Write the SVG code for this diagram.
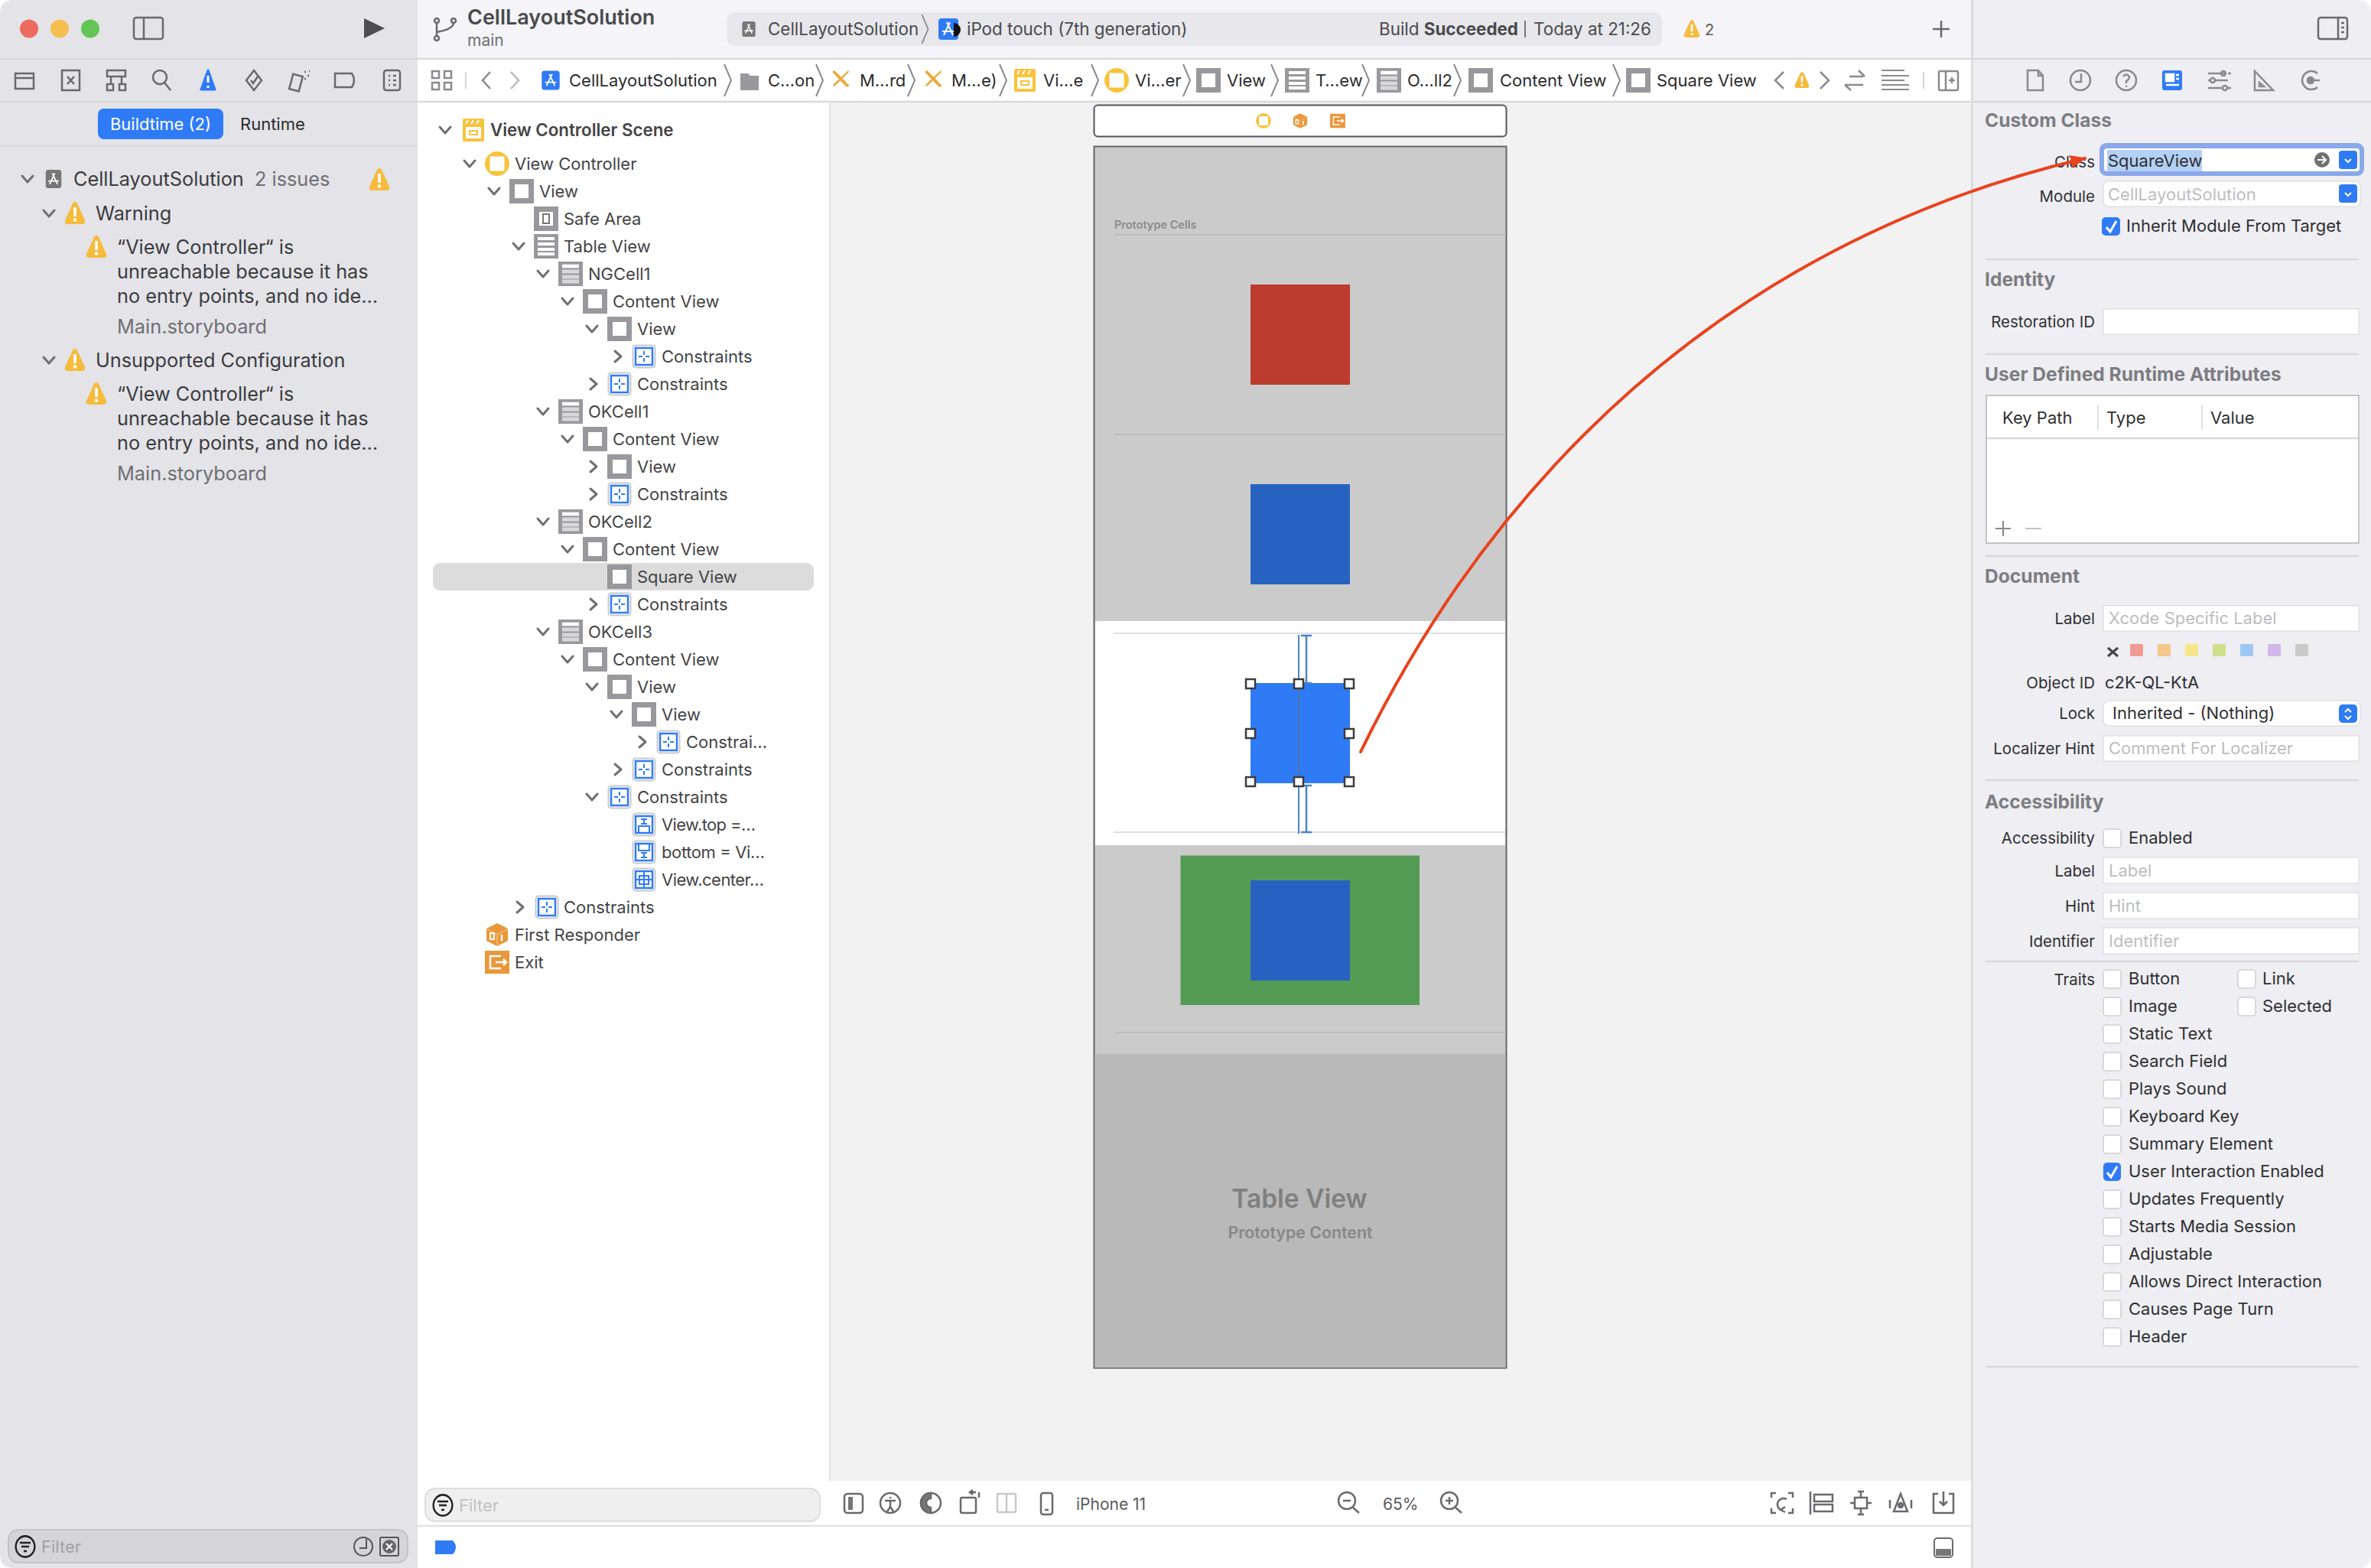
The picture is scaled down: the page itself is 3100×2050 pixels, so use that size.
<svg xmlns="http://www.w3.org/2000/svg" width="3100" height="2050" viewBox="0 0 3100 2050">
<style>
text{font-family:"Inter","Liberation Sans",sans-serif;fill:#3a3a3c}
.t{font-size:22px;fill:#444446}
.n{font-size:25.3px;fill:#3c3c3e}
.g{font-size:25.3px;fill:#6f6f72}
.j{font-size:22px;fill:#2c2c2e}
.k{font-size:22.4px;fill:#4a4a4c}
.h{font-size:24.6px;font-weight:700;fill:#7d7d82}
.l{font-size:20.5px;fill:#303032;text-anchor:end}
.v{font-size:22px;fill:#303032}
.p{font-size:22px;fill:#bdbdc0}
.f{fill:#fff;stroke:#d6d6da;stroke-width:1}
.cb{fill:#fff;stroke:#cfcfd3;stroke-width:1.5}
.sep{stroke:#d9d9dd;stroke-width:2.5;fill:none}
.ic{fill:none;stroke:#6a6a6e;stroke-width:2.5}
.ib{fill:none;stroke:#8a8a8e;stroke-width:2.5}
.ch{fill:none;stroke:#707074;stroke-width:3;stroke-linecap:round;stroke-linejoin:round}
.jc{fill:none;stroke:#8a8a8e;stroke-width:2}
.hd{fill:#fff;stroke:#3c3c3e;stroke-width:2.5}
</style>
<defs>
<marker id="ah" markerUnits="userSpaceOnUse" markerWidth="24" markerHeight="18" refX="20" refY="9" orient="auto"><path d="M0 0L22 9L0 18L3 9Z" fill="#e8431f"/></marker>
<path id="cd" class="ch" d="M-7-4L0 4L7-4"/>
<path id="cr" class="ch" d="M-2-7L6 0L-2 7"/>
<g id="i-view"><rect x="-16" y="-16" width="32" height="32" fill="#98989d"/><rect x="-9" y="-9" width="18" height="18" fill="#fff"/></g>
<g id="i-cell"><rect x="-16" y="-16" width="32" height="32" fill="#98989d"/><path d="M-11-10H11M-11-3H11M-11 4H11M-11 10H11" stroke="#d8d8da" stroke-width="5"/><path d="M-11-10H11" stroke="#fff" stroke-width="4"/></g>
<g id="i-table"><rect x="-16" y="-16" width="32" height="32" fill="#98989d"/><path d="M-11-10H11M-11-3H11M-11 4H11M-11 10H11" stroke="#fff" stroke-width="4"/></g>
<g id="i-safe"><rect x="-16" y="-16" width="32" height="32" fill="#98989d"/><rect x="-9" y="-9" width="18" height="18" fill="#fff"/><rect x="-4" y="-6" width="8" height="12" fill="none" stroke="#777" stroke-width="2"/></g>
<g id="i-con"><rect x="-14.5" y="-14.5" width="29" height="29" rx="4" fill="#fff" stroke="#c9c9cd" stroke-width="2"/><rect x="-11" y="-11" width="22" height="22" fill="none" stroke="#2f7bf6" stroke-width="2.5"/><path d="M-7 0H-2M2 0H7M0-7V-2M0 2V7" stroke="#2f7bf6" stroke-width="2"/></g>
<g id="i-top"><rect x="-14.5" y="-14.5" width="29" height="29" rx="4" fill="#fff" stroke="#c9c9cd" stroke-width="2"/><rect x="-11" y="-11" width="22" height="22" fill="none" stroke="#2f7bf6" stroke-width="2.5"/><path d="M-4-7H4M0-7V-1M-4-1H4M-7 11V2H7V11" fill="none" stroke="#2f7bf6" stroke-width="2"/></g>
<g id="i-bot"><rect x="-14.5" y="-14.5" width="29" height="29" rx="4" fill="#fff" stroke="#c9c9cd" stroke-width="2"/><rect x="-11" y="-11" width="22" height="22" fill="none" stroke="#2f7bf6" stroke-width="2.5"/><path d="M-4 7H4M0 7V1M-4 1H4M-7-11V-2H7V-11" fill="none" stroke="#2f7bf6" stroke-width="2"/></g>
<g id="i-cen"><rect x="-14.5" y="-14.5" width="29" height="29" rx="4" fill="#fff" stroke="#c9c9cd" stroke-width="2"/><rect x="-11" y="-11" width="22" height="22" fill="none" stroke="#2f7bf6" stroke-width="2.5"/><path d="M-6-5H6V6H-6ZM0-11V11M-11 0H11" fill="none" stroke="#2f7bf6" stroke-width="2"/></g>
<g id="i-vc"><circle r="16" fill="#f8c33c"/><rect x="-9.5" y="-9.5" width="19" height="19" fill="#fff"/></g>
<g id="i-scene"><rect x="-14" y="-15" width="28" height="30" rx="2" fill="#f8c33c"/><rect x="-10" y="-4" width="20" height="15" fill="#fff"/><rect x="-5" y="1" width="10" height="5" fill="none" stroke="#f8c33c" stroke-width="2"/><path d="M-10-8L-7-13M-3-8L0-13M4-8L7-13" stroke="#fff" stroke-width="2"/></g>
<g id="i-resp"><path d="M0-15L14-8V8L0 15L-14 8V-8Z" fill="#e9973a"/><path d="M0 0V15M0 0L14-8M0 0L-14-8" stroke="#f2b873" stroke-width="1.5"/><rect x="-9" y="-2" width="5" height="8" fill="none" stroke="#fff" stroke-width="2"/><path d="M6 0V8" stroke="#fff" stroke-width="2.5"/></g>
<g id="i-exit"><rect x="-16" y="-15" width="32" height="30" fill="#e9973a"/><path d="M5-8H-9V8H5M-2 0H12M8-4L12 0L8 4" fill="none" stroke="#fff" stroke-width="2.5"/></g>
<g id="i-warn"><path d="M0-15C1.5-15 3-14 3.5-12L13 9C14 12 12 14 9 14H-9C-12 14-14 12-13 9L-3.5-12C-3-14-1.5-15 0-15Z" fill="#f6bb3c"/><rect x="-1.8" y="-8" width="3.6" height="12" fill="#fff"/><circle cy="8.5" r="2.2" fill="#fff"/></g>
<g id="i-app"><rect x="-12" y="-14" width="24" height="28" rx="4" fill="#777"/><path d="M-6 8L2-9M6 8L-2-9M-8 3H8" stroke="#fff" stroke-width="2" fill="none"/></g>
<g id="i-appb"><rect x="-13" y="-14" width="26" height="28" rx="4" fill="#2f7bf6"/><path d="M-6 8L2-9M6 8L-2-9M-8 3H8" stroke="#fff" stroke-width="2" fill="none"/></g>
<g id="i-x"><path d="M-11-9L-8-11L8 5L5 8ZM10-11L11-9L-7 9L-10 10L-9 7Z" fill="#e8aa3c"/><path d="M5 8C7 5 9 6 11 8C11 11 9 11 7 10Z" fill="#e8aa3c"/></g>
<path id="jv" class="jc" d="M-4-21L5 0L-4 21"/>
<g id="i-filt"><circle r="13" fill="none" stroke="#222" stroke-width="2.5" transform="scale(.95 1.05)"/><path d="M-7-5H7M-5 0H5M-2 6H2" stroke="#222" stroke-width="2.5"/></g>
<g id="i-blue"><rect x="-12" y="-12" width="24" height="24" rx="4" fill="#2f7bf6"/><path d="M-4-1L0 3L4-1" fill="none" stroke="#fff" stroke-width="2"/></g>
</defs>
<rect width="3100" height="2050" fill="#fff"/>

<g id="canvas">
<rect x="1085" y="133" width="1494" height="1803" fill="#f2f2f2"/>
<rect x="1430.5" y="137.5" width="539" height="41" rx="5" fill="#fff" stroke="#55555a" stroke-width="2"/>
<use href="#i-vc" transform="translate(1652 158) scale(.62)"/>
<use href="#i-resp" transform="translate(1700 158) scale(.65)"/>
<use href="#i-exit" transform="translate(1749 158) scale(.62)"/>
<rect x="1430.5" y="191.5" width="539" height="1597" fill="#cbcbcb" stroke="#66666a" stroke-width="2"/>
<text x="1457" y="299" style="font-size:14.5px;font-weight:600;fill:#8a8a8a">Prototype Cells</text>
<path d="M1457 307H1969M1457 568H1969" stroke="#bdbdbd" stroke-width="2"/>
<rect x="1635" y="372" width="130" height="131" fill="#bb3c2f"/>
<rect x="1635" y="633" width="130" height="131" fill="#2862c0"/>
<rect x="1432" y="812" width="536" height="293" fill="#fff"/>
<path d="M1456 828H1968M1456 1088H1968" stroke="#e0e0e0" stroke-width="2"/>
<rect x="1635" y="893" width="130" height="131" fill="#2f7bf6"/>
<path d="M1698 830V1090" stroke="#4a86c8" stroke-width="2"/>
<path d="M1698 893V1024" stroke="#4d6f9c" stroke-width="1.5"/>
<path d="M1701 831H1715M1708 831V893M1701 893H1715M1701 1027H1715M1708 1027V1088M1701 1088H1715" stroke="#4a86c8" stroke-width="2.5" fill="none"/>
<g class="hd">
<rect x="1629" y="888" width="12" height="12"/><rect x="1692" y="888" width="12" height="12"/><rect x="1758" y="888" width="12" height="12"/>
<rect x="1629" y="953" width="12" height="12"/><rect x="1758" y="953" width="12" height="12"/>
<rect x="1629" y="1016" width="12" height="12"/><rect x="1692" y="1016" width="12" height="12"/><rect x="1758" y="1016" width="12" height="12"/>
</g>
<rect x="1543.5" y="1118.5" width="312.5" height="195.5" fill="#549c54"/>
<rect x="1635" y="1151" width="130" height="131" fill="#2862c0"/>
<path d="M1457 1350H1969" stroke="#bdbdbd" stroke-width="2"/>
<rect x="1431.5" y="1378" width="537" height="410" fill="#b9b9b9"/>
<text x="1699" y="1579" text-anchor="middle" style="font-size:33.5px;font-weight:600;fill:#7f7f7f">Table View</text>
<text x="1700" y="1619" text-anchor="middle" style="font-size:21.3px;font-weight:600;fill:#888">Prototype Content</text>
</g>

<g id="left-panel">
<rect width="546" height="2050" fill="#e3e3e8"/>
<path d="M0 77H546M0 133H546M0 191H546" class="sep" stroke="#cfcfd4"/>
<circle cx="38" cy="37.5" r="12" fill="#ed6a5e"/><circle cx="78" cy="37.5" r="12" fill="#f5bf4f"/><circle cx="118" cy="37.5" r="12" fill="#62c554"/>
<g class="ic"><rect x="175" y="23" width="38" height="28" rx="3"/><path d="M188 23V51"/></g>
<path d="M476 24L503 37L476 50Z" fill="#4d4d50"/>
<g class="ic">
<path d="M20 96H44V116H20ZM20 102H44"/>
<rect x="81" y="92" width="23" height="26"/><path d="M88 100L97 110M97 100L88 110"/>
<path d="M140 92H164V100H140ZM145 100V110M159 100V110M140 110H148V118H140ZM156 110H164V118H156Z"/>
<circle cx="209" cy="101" r="9"/><path d="M215 108L223 118"/>
<path d="M332 92L342 105L332 118L322 105Z"/><path d="M328 105L331 109L337 100"/>
<rect x="381" y="98" width="13" height="20" transform="rotate(15 387 106)"/><path d="M398 94h2M402 99h2M398 103h2M404 93h1"/>
<path d="M438 96H460Q466 105 460 114H438Z"/>
<rect x="502" y="92" width="21" height="26" rx="3"/><path d="M508 99H510M514 99H518M508 105H510M514 105H518M508 111H510M514 111H518"/>
</g>
<path d="M272 92L281 117H263Z" fill="#2f7bf6" stroke="#2f7bf6" stroke-linejoin="round" stroke-width="3"/><path d="M272 99V108M272 112V115" stroke="#fff" stroke-width="3"/>
<rect x="128" y="142" width="164" height="40" rx="8" fill="#2f7bf6"/>
<text x="210" y="170" text-anchor="middle" style="font-size:22px;fill:#fff">Buildtime (2)</text>
<text x="314" y="170" style="font-size:22px;fill:#2c2c2e">Runtime</text>
<use href="#cd" x="36" y="234"/><use href="#i-app" transform="translate(70 234) scale(.85)"/>
<text class="n" x="96" y="243">CellLayoutSolution</text><text class="g" x="333" y="243">2 issues</text>
<use href="#i-warn" x="496" y="235"/>
<use href="#cd" x="64" y="279"/><use href="#i-warn" x="98" y="279"/><text class="n" x="125" y="288">Warning</text>
<use href="#i-warn" x="126" y="323"/>
<text class="n" x="153" y="332">“View Controller“ is</text>
<text class="n" x="153" y="364">unreachable because it has</text>
<text class="n" x="153" y="396">no entry points, and no ide…</text>
<text class="g" x="153" y="436">Main.storyboard</text>
<use href="#cd" x="64" y="471"/><use href="#i-warn" x="98" y="471"/><text class="n" x="125" y="480">Unsupported Configuration</text>
<use href="#i-warn" x="126" y="515"/>
<text class="n" x="153" y="524">“View Controller“ is</text>
<text class="n" x="153" y="556">unreachable because it has</text>
<text class="n" x="153" y="588">no entry points, and no ide…</text>
<text class="g" x="153" y="628">Main.storyboard</text>
<rect x="11" y="2000" width="522" height="43" rx="13" fill="#d4d4d9" stroke="#bcbcc0" stroke-width="1.5"/>
<use href="#i-filt" x="33" y="2022"/>
<text x="54" y="2030" style="font-size:22px;fill:#a2a2a6">Filter</text>
<circle cx="475" cy="2022" r="12" fill="none" stroke="#555" stroke-width="2"/><path d="M479 2012V2024H470" fill="none" stroke="#555" stroke-width="2"/>
<rect x="497" y="2010" width="24" height="24" rx="2" fill="none" stroke="#555" stroke-width="2"/><circle cx="509" cy="2022" r="9" fill="#666"/><path d="M505 2018L513 2026M513 2018L505 2026" stroke="#fff" stroke-width="2"/>
</g>

<g id="top-bar">
<rect x="546" width="2033" height="77" fill="#f4f4f9"/>
<g class="ic"><circle cx="571" cy="27" r="3"/><circle cx="571" cy="50" r="3"/><path d="M571 30V47M593 30Q593 38 571 42"/></g><circle cx="593" cy="27" r="3" fill="none" stroke="#6a6a6e" stroke-width="2.5"/>
<text x="611" y="32" style="font-size:27px;font-weight:600;fill:#4a4a4c">CellLayoutSolution</text>
<text x="611" y="60" style="font-size:21px;fill:#6f6f72">main</text>
<rect x="950" y="16" width="1223" height="44" rx="10" fill="#e7e7ec"/>
<use href="#i-app" transform="translate(979 38) scale(.72)"/>
<text class="k" x="1004" y="46">CellLayoutSolution</text>
<use href="#jv" transform="translate(1209 38) scale(.9)"/>
<use href="#i-appb" x="1240" y="38"/><path d="M1247 30a7 7 0 0 1 0 18z" fill="#111"/>
<text class="k" x="1264" y="46">iPod touch (7th generation)</text>
<text class="k" x="1803" y="46">Build <tspan font-weight="700">Succeeded</tspan></text>
<path d="M1994 27V49" stroke="#555" stroke-width="1.5"/>
<text class="k" x="2005" y="46">Today at 21:26</text>
<use href="#i-warn" transform="translate(2212 38) scale(.78)"/><text x="2229" y="46" style="font-size:20px;fill:#5a5a5c">2</text>
<path d="M2527 38H2549M2538 27V49" stroke="#6a6a6e" stroke-width="2.5"/>
</g>

<g id="jump-bar">
<rect x="546" y="79" width="2033" height="53" fill="#fff"/>
<path d="M546 77H2579M546 133H2579" class="sep"/>
<g class="ib"><rect x="565" y="93" width="9" height="9"/><rect x="581" y="93" width="9" height="9"/><rect x="565" y="108" width="9" height="9"/><rect x="581" y="108" width="9" height="9"/></g>
<path d="M609 94V116" stroke="#d5d5d8" stroke-width="2"/>
<path d="M641 94L631 105L641 116" class="ib"/><path d="M668 94L678 105L668 116" class="ib" stroke-opacity=".6"/>
<use href="#i-appb" transform="translate(720 105) scale(.9)"/>
<text class="j" x="744" y="113">CellLayoutSolution</text><use href="#jv" x="951" y="105"/>
<path d="M968 96H978L981 99H992V118H968Z" fill="#98989d"/>
<text class="j" x="1004" y="113">C…on</text><use href="#jv" x="1071" y="105"/>
<use href="#i-x" x="1099" y="103"/>
<text class="j" x="1124" y="113">M…rd</text><use href="#jv" x="1191" y="105"/>
<use href="#i-x" x="1220" y="103"/>
<text class="j" x="1244" y="113">M…e)</text><use href="#jv" x="1311" y="105"/>
<use href="#i-scene" x="1340" y="105"/>
<text class="j" x="1364" y="113">Vi…e</text><use href="#jv" x="1431" y="105"/>
<use href="#i-vc" x="1460" y="105"/>
<text class="j" x="1484" y="113">Vi…er</text><use href="#jv" x="1551" y="105"/>
<use href="#i-view" x="1580" y="105"/>
<text class="j" x="1604" y="113">View</text><use href="#jv" x="1666" y="105"/>
<use href="#i-table" x="1696" y="105"/>
<text class="j" x="1720" y="113">T…ew</text><use href="#jv" x="1785" y="105"/>
<use href="#i-cell" x="1816" y="105"/>
<text class="j" x="1840" y="113">O…ll2</text><use href="#jv" x="1905" y="105"/>
<use href="#i-view" x="1936" y="105"/>
<text class="j" x="1961" y="113">Content View</text><use href="#jv" x="2113" y="105"/>
<use href="#i-view" x="2142" y="105"/>
<text class="j" x="2166" y="113">Square View</text>
<path d="M2332 94L2321 105L2332 116" class="ib"/>
<use href="#i-warn" transform="translate(2356 105) scale(.72)"/>
<path d="M2380 94L2391 105L2380 116" class="ib"/>
<path d="M2418 100H2436M2430 92L2438 100M2412 111H2436M2412 111L2420 118" class="ib"/>
<path d="M2460 92H2490M2460 99H2496M2460 105H2490M2460 111H2496M2460 117H2496" stroke="#8a8a8e" stroke-width="2"/>
<path d="M2515 94V116" stroke="#d5d5d8" stroke-width="2"/>
<g class="ib"><rect x="2535" y="93" width="25" height="25" rx="2"/><path d="M2544 93V118M2548 105H2556M2552 101V109"/></g>
</g>

<g id="outline">
<rect x="1084" y="133" width="2" height="1803" fill="#e3e3e6"/>
<rect x="566" y="736" width="498" height="36" rx="9" fill="#dcdcdc"/>
<use href="#cd" x="582" y="170"/><use href="#i-scene" x="619" y="170"/>
<text x="641" y="178" style="font-size:22.3px;font-weight:600;fill:#444446">View Controller Scene</text>
<g id="row-0"><use href="#cd" x="614" y="214"/><use href="#i-vc" x="650" y="214"/><text class="t" x="673" y="222">View Controller</text></g>
<g id="row-1"><use href="#cd" x="646" y="250"/><use href="#i-view" x="682" y="250"/><text class="t" x="705" y="258">View</text></g>
<g id="row-2"><use href="#i-safe" x="714" y="286"/><text class="t" x="737" y="294">Safe Area</text></g>
<g id="row-3"><use href="#cd" x="678" y="322"/><use href="#i-table" x="714" y="322"/><text class="t" x="737" y="330">Table View</text></g>
<g id="row-4"><use href="#cd" x="710" y="358"/><use href="#i-cell" x="746" y="358"/><text class="t" x="769" y="366">NGCell1</text></g>
<g id="row-5"><use href="#cd" x="742" y="394"/><use href="#i-view" x="778" y="394"/><text class="t" x="801" y="402">Content View</text></g>
<g id="row-6"><use href="#cd" x="774" y="430"/><use href="#i-view" x="810" y="430"/><text class="t" x="833" y="438">View</text></g>
<g id="row-7"><use href="#cr" x="806" y="466"/><use href="#i-con" x="842" y="466"/><text class="t" x="865" y="474">Constraints</text></g>
<g id="row-8"><use href="#cr" x="774" y="502"/><use href="#i-con" x="810" y="502"/><text class="t" x="833" y="510">Constraints</text></g>
<g id="row-9"><use href="#cd" x="710" y="538"/><use href="#i-cell" x="746" y="538"/><text class="t" x="769" y="546">OKCell1</text></g>
<g id="row-10"><use href="#cd" x="742" y="574"/><use href="#i-view" x="778" y="574"/><text class="t" x="801" y="582">Content View</text></g>
<g id="row-11"><use href="#cr" x="774" y="610"/><use href="#i-view" x="810" y="610"/><text class="t" x="833" y="618">View</text></g>
<g id="row-12"><use href="#cr" x="774" y="646"/><use href="#i-con" x="810" y="646"/><text class="t" x="833" y="654">Constraints</text></g>
<g id="row-13"><use href="#cd" x="710" y="682"/><use href="#i-cell" x="746" y="682"/><text class="t" x="769" y="690">OKCell2</text></g>
<g id="row-14"><use href="#cd" x="742" y="718"/><use href="#i-view" x="778" y="718"/><text class="t" x="801" y="726">Content View</text></g>
<g id="row-15"><use href="#i-view" x="810" y="754"/><text class="t" x="833" y="762">Square View</text></g>
<g id="row-16"><use href="#cr" x="774" y="790"/><use href="#i-con" x="810" y="790"/><text class="t" x="833" y="798">Constraints</text></g>
<g id="row-17"><use href="#cd" x="710" y="826"/><use href="#i-cell" x="746" y="826"/><text class="t" x="769" y="834">OKCell3</text></g>
<g id="row-18"><use href="#cd" x="742" y="862"/><use href="#i-view" x="778" y="862"/><text class="t" x="801" y="870">Content View</text></g>
<g id="row-19"><use href="#cd" x="774" y="898"/><use href="#i-view" x="810" y="898"/><text class="t" x="833" y="906">View</text></g>
<g id="row-20"><use href="#cd" x="806" y="934"/><use href="#i-view" x="842" y="934"/><text class="t" x="865" y="942">View</text></g>
<g id="row-21"><use href="#cr" x="838" y="970"/><use href="#i-con" x="874" y="970"/><text class="t" x="897" y="978">Constrai…</text></g>
<g id="row-22"><use href="#cr" x="806" y="1006"/><use href="#i-con" x="842" y="1006"/><text class="t" x="865" y="1014">Constraints</text></g>
<g id="row-23"><use href="#cd" x="774" y="1042"/><use href="#i-con" x="810" y="1042"/><text class="t" x="833" y="1050">Constraints</text></g>
<g id="row-24"><use href="#i-top" x="842" y="1078"/><text class="t" x="865" y="1086" textLength="123">View.top =…</text></g>
<g id="row-25"><use href="#i-bot" x="842" y="1114"/><text class="t" x="865" y="1122" textLength="135">bottom = Vi…</text></g>
<g id="row-26"><use href="#i-cen" x="842" y="1150"/><text class="t" x="865" y="1158" textLength="134">View.center…</text></g>
<g id="row-27"><use href="#cr" x="678" y="1186"/><use href="#i-con" x="715" y="1186"/><text class="t" x="737" y="1194">Constraints</text></g>
<g id="row-28"><use href="#i-resp" x="650" y="1222"/><text class="t" x="673" y="1230">First Responder</text></g>
<g id="row-29"><use href="#i-exit" x="650" y="1258"/><text class="t" x="673" y="1266">Exit</text></g>
<rect x="556" y="1946" width="516" height="43" rx="13" fill="#efefef" stroke="#d5d5d5" stroke-width="1.5"/>
<use href="#i-filt" x="579" y="1968"/>
<text x="600" y="1976" style="font-size:22px;fill:#c2c2c2">Filter</text>
</g>

<g id="bottom-bar">
<rect x="1086" y="1936" width="1493" height="58" fill="#fff"/>
<path d="M546 1995H2579" stroke="#e3e3e6" stroke-width="2.5"/>
<g class="ic" stroke-width="2">
<rect x="1104" y="1953" width="24" height="25" rx="4"/><rect x="1109" y="1957" width="6" height="17" fill="#777" stroke="none"/>
<circle cx="1164" cy="1965" r="13"/><path d="M1164 1957V1959M1157 1962H1171M1164 1962V1970M1164 1970L1160 1976M1164 1970L1168 1976"/>
<circle cx="1217" cy="1965" r="13"/><path d="M1217 1952A13 13 0 0 0 1217 1978V1971A6 6 0 0 1 1217 1959Z" fill="#777"/>
<rect x="1256" y="1958" width="20" height="20" rx="2"/><path d="M1270 1951H1276M1272 1948L1268 1951L1272 1954M1280 1951V1958"/>
<rect x="1304" y="1953" width="24" height="24" rx="2" stroke="#c9c9cd"/><path d="M1316 1953V1977" stroke="#c9c9cd"/>
<rect x="1361" y="1952" width="15" height="28" rx="3"/><path d="M1366 1974H1371"/>
<circle cx="1761" cy="1962" r="11"/><path d="M1769 1971L1777 1978M1756 1962H1766"/>
<circle cx="1895" cy="1962" r="11"/><path d="M1903 1971L1911 1978M1890 1962H1900M1895 1957V1967"/>
<path d="M2316 1958V1952H2322M2338 1952H2344V1958M2316 1972V1978H2322M2338 1978H2344V1972M2336 1960A8 8 0 1 0 2328 1974M2328 1974L2334 1970M2328 1974L2334 1977"/>
<path d="M2367 1950V1980M2372 1954H2396V1963H2372ZM2372 1967H2396V1976H2372Z"/>
<rect x="2425" y="1958" width="16" height="14"/><path d="M2433 1950V1958M2433 1972V1980M2419 1965H2425M2441 1965H2447M2429 1950H2437M2429 1980H2437"/>
<path d="M2485 1953L2494 1976H2476Z"/><circle cx="2485" cy="1968" r="3" fill="#777"/><path d="M2471 1961V1972M2499 1961V1972"/>
<path d="M2534 1953H2528V1978H2554V1953H2548M2541 1950V1968M2536 1963L2541 1968L2546 1963"/>
</g>
<text x="1407" y="1974" style="font-size:21px;fill:#5a5a5c">iPhone 11</text>
<text x="1808" y="1974" style="font-size:21px;fill:#5a5a5c">65%</text>
</g>

<g id="debug-bar">
<path d="M569 2014H592Q600 2023 592 2032H569Z" fill="#2f7bf6"/>
<rect x="2529" y="2011" width="24" height="25" rx="4" fill="none" stroke="#6a6a6e" stroke-width="2"/><rect x="2531" y="2025" width="20" height="9" fill="#777"/>
</g>

<g id="inspector">
<rect x="2579" width="521" height="2050" fill="#eeeef3"/>
<path d="M2578.5 0V2050" stroke="#d9d9dd" stroke-width="2.5"/>
<path d="M2579 77H3100M2579 133H3100" class="sep"/>
<g class="ic"><rect x="3031" y="23" width="38" height="28" rx="3"/><path d="M3057 23V51M3061 30H3065M3061 36H3065M3061 42H3065"/></g>
<g class="ib" stroke-width="2.5">
<path d="M2651 92H2665L2671 99V118H2651ZM2665 92V99H2671"/>
<circle cx="2720" cy="105" r="13"/><path d="M2721 96V107H2713"/>
<circle cx="2780" cy="105" r="13"/><path d="M2776 100Q2780 95 2784 100Q2784 104 2780 106V109M2780 112V114"/>
<path d="M2887 96H2910M2917 96H2913M2887 105H2890M2897 105H2913M2887 115H2907M2913 115H2917"/><circle cx="2907" cy="96" r="3"/><circle cx="2893" cy="105" r="3"/><circle cx="2909" cy="115" r="3"/>
<path d="M2948 93V118H2972ZM2954 108L2960 113H2954Z"/>
<path d="M3030 96A12 12 0 1 0 3030 114M3020 105H3033"/><circle cx="3021" cy="105" r="4" fill="#8a8a8e"/>
</g>
<rect x="2827" y="92" width="26" height="26" rx="3" fill="#2f7bf6"/><path d="M2832 97H2842V106H2832ZM2845 98H2849M2845 103H2849M2832 111H2849" stroke="#fff" stroke-width="2.5" fill="#fff"/>

<g id="custom-class">
<text class="h" x="2595" y="166">Custom Class</text>
<rect x="2745" y="187" width="346" height="43" rx="9" fill="#8aa8ea"/>
<rect x="2751" y="194" width="334" height="30" rx="4" fill="#fff"/>
<rect x="2755" y="196" width="124" height="28" fill="#b3d0f5"/>
<text class="l" x="2739" y="219">Class</text>
<text class="v" x="2756" y="218">SquareView</text>
<circle cx="3036" cy="209" r="10" fill="#707074"/><path d="M3030 209H3041M3036 204L3041 209L3036 214" stroke="#fff" stroke-width="2" fill="none"/>
<use href="#i-blue" x="3070" y="209"/>
<rect x="2750" y="237" width="336" height="33" rx="7" class="f"/>
<text class="l" x="2739" y="264">Module</text>
<text class="p" x="2756" y="262">CellLayoutSolution</text>
<use href="#i-blue" x="3070" y="253"/>
<rect x="2748" y="284" width="24" height="24" rx="5" fill="#2f7bf6"/><path d="M2754 297L2759 303L2767 289" stroke="#fff" stroke-width="3" fill="none"/>
<text class="v" x="2780" y="303">Inherit Module From Target</text>
<path d="M2596 339H3084" class="sep"/>
</g>
<g id="identity">
<text class="h" x="2595" y="374">Identity</text>
<text class="l" x="2739" y="428">Restoration ID</text>
<rect x="2750" y="404" width="334" height="33" class="f"/>
<path d="M2596 463H3084" class="sep"/>
</g>
<g id="attrs">
<text class="h" x="2595" y="498">User Defined Runtime Attributes</text>
<rect x="2597" y="517" width="487" height="193" fill="#fff" stroke="#c4c4c8" stroke-width="2"/>
<path d="M2598 573H3083" class="sep"/>
<path d="M2743 530V562M2879 530V562" stroke="#e0e0e3" stroke-width="2"/>
<text class="v" x="2618" y="554">Key Path</text><text class="v" x="2754" y="554">Type</text><text class="v" x="2890" y="554">Value</text>
<path d="M2609 691H2629M2619 681V701" stroke="#8a8a8e" stroke-width="2"/><path d="M2648 691H2669" stroke="#c4c4c8" stroke-width="2"/>
<path d="M2596 727H3084" class="sep"/>
</g>
<g id="document">
<text class="h" x="2595" y="762">Document</text>
<text class="l" x="2739" y="816">Label</text>
<rect x="2750" y="792" width="334" height="33" class="f"/><text class="p" x="2757" y="816">Xcode Specific Label</text>
<path d="M2756 847L2769 858M2769 847L2756 858" stroke="#444" stroke-width="3"/>
<rect x="2785" y="842" width="17" height="16" rx="2" fill="#f09a93"/><rect x="2821" y="842" width="17" height="16" rx="2" fill="#f5c78a"/><rect x="2857" y="842" width="17" height="16" rx="2" fill="#f7e58a"/><rect x="2893" y="842" width="17" height="16" rx="2" fill="#cfe08a"/><rect x="2929" y="842" width="17" height="16" rx="2" fill="#9cc7f5"/><rect x="2965" y="842" width="17" height="16" rx="2" fill="#d2b8e8"/><rect x="3001" y="842" width="17" height="16" rx="2" fill="#c9c9c9"/>
<text class="l" x="2739" y="900">Object ID</text><text class="v" x="2752" y="900">c2K-QL-KtA</text>
<text class="l" x="2739" y="940">Lock</text>
<rect x="2750" y="916" width="336" height="33" rx="8" class="f"/><text class="v" x="2762" y="940">Inherited - (Nothing)</text>
<rect x="3058" y="921" width="24" height="24" rx="5" fill="#2f7bf6"/><path d="M3066 931L3070 927L3074 931M3066 936L3070 940L3074 936" stroke="#fff" stroke-width="2" fill="none"/>
<text class="l" x="2739" y="986">Localizer Hint</text>
<rect x="2750" y="962" width="334" height="33" class="f"/><text class="p" x="2757" y="986">Comment For Localizer</text>
<path d="M2596 1020H3084" class="sep"/>
</g>
<g id="accessibility">
<text class="h" x="2595" y="1057">Accessibility</text>
<text class="l" x="2739" y="1103">Accessibility</text>
<rect x="2750" y="1084" width="23" height="24" rx="4" class="cb"/><text class="v" x="2783" y="1103">Enabled</text>
<text class="l" x="2739" y="1146">Label</text><rect x="2750" y="1121" width="334" height="34" class="f"/><text class="p" x="2757" y="1146">Label</text>
<text class="l" x="2739" y="1192">Hint</text><rect x="2750" y="1167" width="334" height="34" class="f"/><text class="p" x="2757" y="1192">Hint</text>
<text class="l" x="2739" y="1238">Identifier</text><rect x="2750" y="1213" width="334" height="34" class="f"/><text class="p" x="2757" y="1238">Identifier</text>
<path d="M2596 1257H3084" class="sep"/>
<text class="l" x="2739" y="1288">Traits</text>
<g class="cb">
<rect x="2750" y="1268" width="23" height="24" rx="4"/><rect x="2926" y="1268" width="23" height="24" rx="4"/>
<rect x="2750" y="1304" width="23" height="24" rx="4"/><rect x="2926" y="1304" width="23" height="24" rx="4"/>
<rect x="2750" y="1340" width="23" height="24" rx="4"/><rect x="2750" y="1376" width="23" height="24" rx="4"/><rect x="2750" y="1412" width="23" height="24" rx="4"/><rect x="2750" y="1448" width="23" height="24" rx="4"/><rect x="2750" y="1484" width="23" height="24" rx="4"/>
<rect x="2750" y="1556" width="23" height="24" rx="4"/><rect x="2750" y="1592" width="23" height="24" rx="4"/><rect x="2750" y="1628" width="23" height="24" rx="4"/><rect x="2750" y="1664" width="23" height="24" rx="4"/><rect x="2750" y="1700" width="23" height="24" rx="4"/><rect x="2750" y="1736" width="23" height="24" rx="4"/>
</g>
<rect x="2750" y="1520" width="23" height="24" rx="5" fill="#2f7bf6"/><path d="M2755 1533L2760 1539L2768 1525" stroke="#fff" stroke-width="3" fill="none"/>
<text class="v" x="2783" y="1287">Button</text><text class="v" x="2958" y="1287">Link</text>
<text class="v" x="2783" y="1323">Image</text><text class="v" x="2958" y="1323">Selected</text>
<text class="v" x="2783" y="1359">Static Text</text>
<text class="v" x="2783" y="1395">Search Field</text>
<text class="v" x="2783" y="1431">Plays Sound</text>
<text class="v" x="2783" y="1467">Keyboard Key</text>
<text class="v" x="2783" y="1503">Summary Element</text>
<text class="v" x="2783" y="1539">User Interaction Enabled</text>
<text class="v" x="2783" y="1575">Updates Frequently</text>
<text class="v" x="2783" y="1611">Starts Media Session</text>
<text class="v" x="2783" y="1647">Adjustable</text>
<text class="v" x="2783" y="1683">Allows Direct Interaction</text>
<text class="v" x="2783" y="1719">Causes Page Turn</text>
<text class="v" x="2783" y="1755">Header</text>
<path d="M2596 1787H3084" class="sep"/>
</g>
</g>

<g id="connectors">
<path d="M1779 983C1880 775 2140 345 2726 207" fill="none" stroke="#e8431f" stroke-width="4" stroke-linecap="round" marker-end="url(#ah)"/>
</g>

<g id="window-corners" fill="#fff">
<path d="M0 0H18Q0 0 0 18ZM3100 0H3082Q3100 0 3100 18ZM0 2050H18Q0 2050 0 2032ZM3100 2050H3082Q3100 2050 3100 2032Z"/>
</g>
</svg>
